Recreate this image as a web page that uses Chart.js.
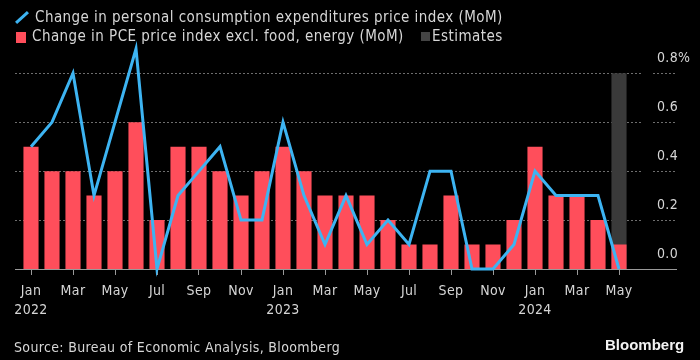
<!DOCTYPE html>
<html>
<head>
<meta charset="utf-8">
<script src="https://cdn.jsdelivr.net/npm/chart.js@4/dist/chart.umd.min.js"></script>
<style>
  body { margin: 0; background: #000; }
  #wrap { position: relative; width: 700px; height: 360px; overflow: hidden; background: #000;
          font-family: "DejaVu Sans Condensed", "DejaVu Sans", sans-serif; color: #d6d6d6; }
  #chart { position: absolute; left: 0; top: 0; }
  .txt { position: absolute; white-space: nowrap; line-height: 1; }
  .lg { font-size: 15px; letter-spacing: 0.45px; }
  .slash { position: absolute; left: 14px; top: 16px; width: 16px; height: 3px; background: #3db4f2;
           transform: rotate(-42deg); }
  .sq { position: absolute; }
</style>
</head>
<body>
<div id="wrap">
  <canvas id="chart" width="700" height="360"></canvas>
  <div class="slash"></div>
  <div class="txt lg" style="left:35px; top:10px;">Change in personal consumption expenditures price index (MoM)</div>
  <div class="sq" style="left:16px; top:32px; width:10px; height:11px; background:#ff4e5b;"></div>
  <div class="txt lg" style="left:32px; top:29px;">Change in PCE price index excl. food, energy (MoM)</div>
  <div class="sq" style="left:421px; top:32px; width:9px; height:9px; background:#444;"></div>
  <div class="txt lg" style="left:432px; top:29px;">Estimates</div>
  <div class="txt" style="left:14px; top:340px; font-size:14px; letter-spacing:0.35px;">Source: Bureau of Economic Analysis, Bloomberg</div>
  <div class="txt" style="left:605px; top:337px; font-size:15px; font-weight:bold; font-family:'Liberation Sans', Arial, sans-serif; color:#f2f2f2;">Bloomberg</div>
</div>
<script>
// Месяцы и значения (MoM, %)
const labels = [
    'Jan 2022', 'Feb 2022', 'Mar 2022', 'Apr 2022', 'May 2022', 'Jun 2022',
    'Jul 2022', 'Aug 2022', 'Sep 2022', 'Oct 2022', 'Nov 2022', 'Dec 2022',
    'Jan 2023', 'Feb 2023', 'Mar 2023', 'Apr 2023', 'May 2023', 'Jun 2023',
    'Jul 2023', 'Aug 2023', 'Sep 2023', 'Oct 2023', 'Nov 2023', 'Dec 2023',
    'Jan 2024', 'Feb 2024', 'Mar 2024', 'Apr 2024', 'May 2024'
];
const pceHeadline = [0.5, 0.6, 0.8, 0.3, 0.6, 0.9, 0.0, 0.3, 0.4, 0.5, 0.2, 0.2,
                     0.6, 0.3, 0.1, 0.3, 0.1, 0.2, 0.1, 0.4, 0.4, 0.0, 0.0, 0.1,
                     0.4, 0.3, 0.3, 0.3, 0.0];
const pceCore = [0.5, 0.4, 0.4, 0.3, 0.4, 0.6, 0.2, 0.5, 0.5, 0.4, 0.3, 0.4,
                 0.5, 0.4, 0.3, 0.3, 0.3, 0.2, 0.1, 0.1, 0.3, 0.1, 0.1, 0.2,
                 0.5, 0.3, 0.3, 0.2, 0.1];
const estimates = [null, null, null, null, null, null, null, null, null, null, null, null,
                   null, null, null, null, null, null, null, null, null, null, null, null,
                   null, null, null, null, 0.8];
const yTicks = [0, 0.2, 0.4, 0.6, 0.8];

const FONT = '"DejaVu Sans Condensed", "DejaVu Sans", sans-serif';

// Разрядка текста на канве (как в HTML-подписях)
const spacingPlugin = {
    id: 'spacing',
    beforeUpdate(chart) { chart.ctx.letterSpacing = '0.35px'; },
    beforeDraw(chart) { chart.ctx.letterSpacing = '0.35px'; }
};

// Пунктирная сетка и ось, выходящие за область графика
const gridPlugin = {
    id: 'bbgGrid',
    beforeDatasetsDraw(chart) {
        const ctx = chart.ctx;
        const y = chart.scales.y;
        ctx.save();
        ctx.lineWidth = 1;
        yTicks.forEach(function(v) {
            const py = Math.round(y.getPixelForValue(v)) + 0.5;
            if (v === 0) {
                ctx.setLineDash([]);
                ctx.strokeStyle = '#9a9a9a';
                ctx.beginPath();
                ctx.moveTo(15, py);
                ctx.lineTo(677, py);
                ctx.stroke();
            } else {
                ctx.setLineDash([2, 2]);
                ctx.strokeStyle = '#6e6e6e';
                ctx.beginPath();
                ctx.moveTo(15, py);
                ctx.lineTo(643, py);
                ctx.moveTo(653, py);
                ctx.lineTo(677, py);
                ctx.stroke();
            }
        });
        ctx.restore();
    }
};

new Chart(document.getElementById('chart'), {
    type: 'bar',
    data: {
        labels: labels,
        datasets: [
            {
                type: 'line',
                label: 'Change in personal consumption expenditures price index (MoM)',
                data: pceHeadline,
                borderColor: '#3db4f2',
                borderWidth: 3,
                pointRadius: 0,
                tension: 0,
                clip: false,
                order: 0
            },
            {
                label: 'Change in PCE price index excl. food, energy (MoM)',
                data: pceCore,
                backgroundColor: '#ff4e5b',
                borderWidth: 0,
                grouped: false,
                barPercentage: 0.72,
                categoryPercentage: 1,
                order: 1
            },
            {
                label: 'Estimates',
                data: estimates,
                backgroundColor: '#3a3a3a',
                borderWidth: 0,
                grouped: false,
                barPercentage: 0.72,
                categoryPercentage: 1,
                order: 2
            }
        ]
    },
    options: {
        responsive: false,
        animation: false,
        layout: { padding: { top: 43.9, left: 20.5, right: 0, bottom: 0 } },
        plugins: { legend: { display: false }, tooltip: { enabled: false } },
        scales: {
            x: {
                offset: true,
                border: { display: false },
                grid: {
                    offset: false,
                    drawOnChartArea: false,
                    drawTicks: true,
                    tickLength: 6,
                    color: function(c) { return c.index % 2 === 0 ? '#9a9a9a' : 'transparent'; }
                },
                ticks: {
                    autoSkip: false,
                    maxRotation: 0,
                    padding: 6.5,
                    color: '#d6d6d6',
                    font: { family: FONT, size: 14, lineHeight: 1.36 },
                    callback: function(value, index) {
                        if (index % 2 !== 0) return '';
                        const parts = this.getLabelForValue(value).split(' ');
                        return parts[0] === 'Jan' ? parts : parts[0];
                    }
                },
                afterFit: function(scale) { scale.height = 91; }
            },
            y: {
                position: 'right',
                min: 0,
                max: 0.92,
                border: { display: false },
                grid: { display: false, drawTicks: false },
                afterBuildTicks: function(scale) {
                    scale.ticks = yTicks.map(function(v) { return { value: v }; });
                },
                ticks: {
                    padding: 27.5,
                    crossAlign: 'near',
                    labelOffset: -14.5,
                    color: '#d6d6d6',
                    font: { family: FONT, size: 14 },
                    callback: function(value) {
                        return value.toFixed(1) + (Math.abs(value - 0.8) < 1e-6 ? '%' : '');
                    }
                },
                afterFit: function(scale) { scale.width = 70.5; }
            }
        }
    },
    plugins: [spacingPlugin, gridPlugin]
});
</script>
</body>
</html>
